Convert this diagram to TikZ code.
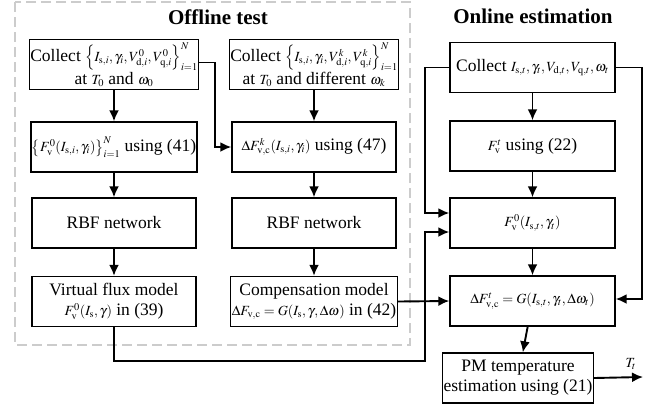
\documentclass[tikz,border=0pt]{standalone}
\usepackage{mathptmx}
\usepackage{fontspec}
\setmainfont{Liberation Serif}
\usepackage{amsmath}
\usetikzlibrary{calc,arrows.meta}
\newcommand{\sm}[1]{{\fontsize{14}{16}\selectfont$#1$}}

\begin{document}
\begin{tikzpicture}[-,line width=1.9pt,>={Latex[length=11pt,width=10pt]},color=black,x=1pt,y=-1pt,
    box/.style={draw,line width=1.4pt,minimum width=164pt,minimum height=50pt,align=center,
        inner sep=1pt,font=\fontsize{17.5}{20}\selectfont},
    title/.style={font=\fontsize{21}{24}\selectfont\bfseries}]
			\useasboundingbox (0,0) rectangle (663,408);
			\draw[gray!40,dash pattern=on 10pt off 5pt,line width=1.6pt] (15,2) rectangle (410,345);
			\node[title] (t1) at (218,17){Offline test};
			\node[title] (t2) at (533,16){Online estimation};
			% offline test, first column
			\node[box] (l1) at (114,64.5){Collect \sm{\left\{I_{\mathrm{s},i},\gamma_i,V^0_{\mathrm{d},i},V^0_{\mathrm{q},i}\right\}_{i=1}^N}\\at \sm{T_0} and \sm{\omega_0}};
			\node[box] (l2) at (114,147){\sm{\left\{F^0_{\mathrm{v}}(I_{\mathrm{s},i},\gamma_i)\right\}_{i=1}^N} using (41)};
			\node[box] (l3) at (114,223){RBF network};
			\node[box] (l4) at (114,301.5){Virtual flux model\\\sm{F^0_{\mathrm{v}}(I_{\mathrm{s}},\gamma)} in (39)};
			% offline test, second column
			\node[box] (m1) at (314,64.5){Collect \sm{\left\{I_{\mathrm{s},i},\gamma_i,V^k_{\mathrm{d},i},V^k_{\mathrm{q},i}\right\}_{i=1}^N}\\at \sm{T_0} and different \sm{\omega_k}};
			\node[box] (m2) at (314,147){\sm{\Delta F^k_{\mathrm{v,c}}(I_{\mathrm{s},i},\gamma_i)} using (47)};
			\node[box] (m3) at (314,223){RBF network};
			\node[box] (m4) at (314,301.5){Compensation model\\\sm{\Delta F_{\mathrm{v,c}}=G(I_{\mathrm{s}},\gamma,\Delta\omega)} in (42)};
			% online estimation
			\node[box,minimum width=165pt] (r1) at (532.5,67.5){Collect \sm{I_{\mathrm{s},t},\gamma_t,V_{\mathrm{d},t},V_{\mathrm{q},t},\omega_t}};
			\node[box,minimum width=165pt] (r2) at (532.5,146){\sm{F^t_{\mathrm{v}}} using (22)};
			\node[box,minimum width=165pt] (r3) at (532.5,223){\sm{F^0_{\mathrm{v}}(I_{\mathrm{s},t},\gamma_t)}};
			\node[box,minimum width=165pt] (r4) at (532.5,301){\sm{\Delta F^t_{\mathrm{v,c}}=G(I_{\mathrm{s},t},\gamma_t,\Delta\omega_t)}};
			\node[box,minimum width=138pt] (r5) at (518,378){PM temperature\\estimation using (21)};
			\coordinate (out) at (643,377);
			% connectors
			\draw[->] (l1) -- (l2);
			\draw[->] (l2) -- (l3);
			\draw[->] (l3) -- (l4);
			\draw[->] (m1) -- (m2);
			\draw[->] (m2) -- (m3);
			\draw[->] (m3) -- (m4);
			\draw[->] (r1) -- (r2);
			\draw[->] (r2) -- (r3);
			\draw[->] (r3) -- (r4);
			\draw[->] (r4) -- (r5);
			\draw[->] ([yshift=2pt]l1.east) -- ++(16,0) |- (m2.west);
			\draw[->] (r1.west) -- ++(-24,0) |- ([yshift=10pt]r3.west);
			\draw[->] (r1.east) -- ++(26,0) |- ([yshift=2pt]r4.east);
			\draw[->] (l4.south) -- ++(0,34) -| (425,232) -- ([yshift=-9pt]r3.west);
			\draw[->] (m4.east) -- (r4.west);
			\draw[->] (r5.east) -- (out) node[above left,xshift=-4pt,yshift=4pt,inner sep=2pt,font=\fontsize{14}{16}\selectfont] {$T_t$};
		\end{tikzpicture}
\end{document}
